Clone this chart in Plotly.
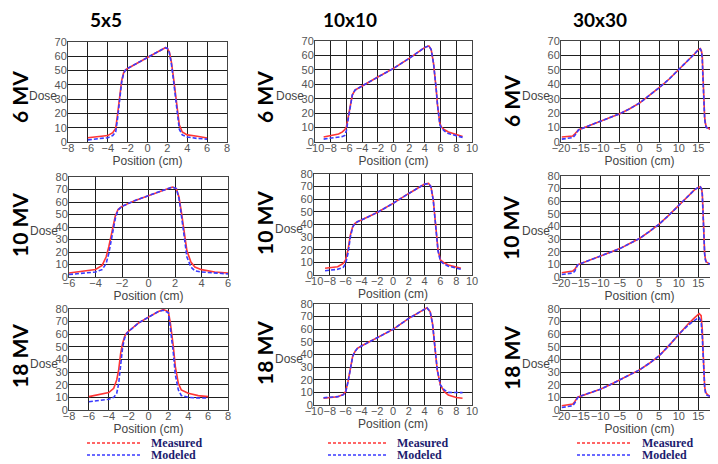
import plotly.graph_objects as go

# screenshot size and page body offset (browser default body margin)
SCREEN_W, SCREEN_H = 718, 464
OFF = 8
W, H = SCREEN_W - OFF, SCREEN_H - OFF

# ---------------- data ----------------
col_titles = ["5x5", "10x10", "30x30"]
row_titles = ["6 MV", "10 MV", "18 MV"]

x_6_5 = [-6, -5, -4, -3.5, -3.2, -3.0, -2.8, -2.6, -2.4, -2.2, -2.0, -1, 0, 1, 1.8, 2.0, 2.2, 2.4, 2.6, 2.8, 3.0, 3.2, 3.5, 4, 5, 6]
meas_6_5 = [3, 3.5, 4.5, 6.5, 9.5, 20, 32, 43, 48.5, 50.5, 51.5, 55.5, 59.5, 63, 66, 65.5, 63, 56, 46, 34, 22, 12, 7, 5, 4, 2.8]
mod_6_5 = [1.5, 2, 3, 4.5, 7, 17, 30, 42, 48, 50.5, 51.5, 55.5, 59.5, 63, 66, 65.5, 62.5, 55, 44, 31, 18, 9, 5, 3.5, 2.5, 2]

x_6_10 = [-8.9, -8, -7, -6.5, -6.2, -6.0, -5.8, -5.55, -5.25, -4.9, -4.5, -4.1, -2, 0, 2, 4, 4.5, 4.8, 5.1, 5.3, 5.45, 5.6, 5.75, 5.9, 6.1, 6.5, 7, 8, 8.8]
meas_6_10 = [3.5, 4.5, 5.5, 7, 8.6, 10.4, 16, 24, 32.5, 36, 37.5, 38.5, 45, 51, 58, 65.6, 66.6, 64, 54.5, 45, 36, 26, 17, 13, 10.4, 8.5, 7, 5, 3.8]
mod_6_10 = [2, 2.5, 3, 3.8, 4.6, 8, 15, 24, 32.5, 36, 37.5, 38.5, 45, 51, 58, 65.6, 66.6, 64, 54.5, 45, 36, 26, 17, 12, 9.7, 7.5, 5.8, 4.2, 3.2]

x_6_30 = [-19.8, -18, -17, -16.5, -16, -15.5, -15, -12.5, -10, -7.5, -5, -2.5, 0, 2.5, 5, 7.5, 10, 12.5, 14, 15, 15.5, 15.8, 16, 16.15, 16.3, 16.45, 16.6, 16.8, 17, 17.5, 18, 19, 20]
meas_6_30 = [3.5, 3.7, 4.2, 5.5, 7, 8.5, 9, 11.5, 14.5, 17, 19.6, 23, 27, 32, 37.6, 43.5, 50, 57, 61, 64, 64.7, 63, 59, 48, 36, 25, 17, 13, 10.5, 9.5, 9, 7.5, 6]
mod_6_30 = [2, 2.5, 3, 4.5, 7, 8.5, 9, 11.5, 14.5, 17, 19.6, 23, 27, 32, 37.6, 43.5, 50, 57, 61, 64, 64.5, 62.5, 57, 45, 34, 24, 16, 12, 10, 9.3, 9, 8.5, 8]

x_10_5 = [-6, -5, -4, -3.5, -3.2, -3.0, -2.85, -2.7, -2.5, -2.3, -2.0, -1, 0, 1, 1.8, 2.1, 2.3, 2.5, 2.7, 2.9, 3.2, 3.5, 4, 5, 6]
meas_10_5 = [3.2, 4.5, 6, 9.3, 16, 24, 32, 40, 49, 54, 56.5, 61.3, 65.3, 69.3, 72, 70.7, 64, 50.7, 34.7, 21, 12, 8, 5.9, 4, 3.2]
mod_10_5 = [2, 3, 4, 5.9, 10.7, 18.7, 27, 35, 47, 53.5, 56.5, 61.3, 65.3, 69.3, 72, 70.7, 63, 48, 30, 16, 8, 5, 4, 3, 2.5]

x_10_10 = [-8.6, -8, -7, -6.3, -6.0, -5.7, -5.4, -5.1, -4.8, -4.5, -4, -2, 0, 2, 4, 4.5, 4.8, 5.1, 5.4, 5.7, 6.0, 6.5, 7, 8, 8.6]
meas_10_10 = [5.3, 5.8, 6.6, 9.2, 11.9, 19.8, 31.7, 38.3, 41, 42.2, 43.5, 49.5, 56.7, 64.6, 72, 72.6, 70, 59.4, 38.3, 19.8, 11.9, 9.5, 7.9, 6, 5.3]
mod_10_10 = [3.4, 3.8, 4.5, 6, 9, 17, 30, 38, 41, 42.2, 43.5, 49.5, 56.7, 64.6, 72, 72.4, 70, 59, 38, 19, 11, 8.5, 7, 5.2, 4.5]

x_10_30 = [-19.8, -18, -17, -16.5, -16.2, -15.8, -15.5, -15, -12.5, -10, -7.5, -5, -2.5, 0, 2.5, 5, 7.5, 10, 12.5, 14, 15, 15.5, 15.8, 16, 16.15, 16.3, 16.45, 16.6, 16.8, 17, 17.5, 18, 19, 20]
meas_10_30 = [3.4, 4, 4.8, 6, 8, 9.5, 10, 10.6, 13.5, 16.4, 19.5, 22.5, 26.5, 30.5, 36, 41.9, 49, 57, 65, 69, 71, 71.5, 70, 66, 55, 39.7, 27, 18.5, 14, 12, 11, 10, 8.5, 6.6]
mod_10_30 = [2, 2.6, 3.2, 4.5, 7, 9.5, 10, 10.6, 13.5, 16.4, 19.5, 22.5, 26.5, 30.5, 36, 41.9, 49, 57, 65, 69, 71, 71.3, 69.5, 65, 53, 38, 26, 18, 13.5, 12, 11, 10, 9, 7.5]

x_18_5 = [-6, -5, -4, -3.5, -3.2, -3.0, -2.8, -2.6, -2.4, -2.2, -2.0, -1, 0, 1, 1.5, 2, 2.2, 2.35, 2.5, 2.7, 3, 3.3, 4, 5, 6]
meas_18_5 = [10.6, 12, 13.8, 17.2, 23.8, 31.8, 45, 53, 58.3, 61, 62.3, 68.9, 73.6, 78, 79.5, 78, 68.9, 60, 50.3, 34.4, 21.2, 15.9, 13.2, 11.4, 10.6]
mod_18_5 = [6.6, 7.5, 8.5, 10, 13.2, 21, 38, 50, 57, 60.5, 62.3, 68.9, 73.6, 78, 79, 77, 65, 56, 45, 28, 16, 11.5, 10, 9.5, 9.5]

x_18_10 = [-8.8, -8, -7, -6.3, -6.0, -5.7, -5.4, -5.1, -4.8, -4.5, -4, -2, 0, 2, 4, 4.3, 4.7, 5.0, 5.3, 5.6, 6.0, 6.5, 7, 8, 8.8]
meas_18_10 = [5.3, 5.8, 6.6, 8.4, 10.6, 18.5, 30.3, 38.8, 42.5, 44.9, 46.7, 53.6, 59.9, 68.6, 76.5, 77, 73.9, 64.6, 46.2, 27.7, 15.8, 10.6, 7.9, 6, 5.3]
mod_18_10 = [5.8, 6, 6.6, 8, 10, 18, 30, 38.5, 42.5, 44.9, 46.7, 53.6, 59.9, 68.6, 76.5, 77, 73.9, 64.6, 46.2, 28, 15.8, 11.9, 10, 9.8, 9.8]

x_18_30 = [-19.8, -18, -17, -16.5, -16.2, -15.8, -15.5, -15, -12.5, -10, -7.5, -5, -2.5, 0, 2.5, 5, 7.5, 10, 12.5, 14, 14.5, 15.2, 15.7, 16, 16.15, 16.3, 16.45, 16.6, 16.8, 17, 17.5, 18, 19, 20]
meas_18_30 = [3.4, 4, 4.8, 6.5, 8.5, 10, 10.6, 11, 13.7, 16.4, 20, 23.8, 27.5, 31.8, 37, 42.9, 51, 60, 68.5, 73, 74.7, 76.3, 74.7, 63.6, 50, 37, 26, 18.5, 15, 13.2, 11.8, 10.6, 8.5, 6.6]
mod_18_30 = [2, 2.6, 3.4, 5.5, 7.5, 9.5, 10.5, 11, 13.7, 16.4, 20, 23.8, 27.5, 31.8, 37, 42.9, 51, 60, 67.5, 71, 72, 73, 70, 58, 46, 35, 25, 18, 14, 12, 11.3, 11, 10, 10]

x_ranges = [[-8, 8], [-10, 10], [-20, 20]]
x_dticks = [2, 2, 5]
x_ranges_row2 = [[-6, 6], [-10, 10], [-20, 20]]
y_max = [70, 80, 80]

panel_data = [
    [(x_6_5, meas_6_5, mod_6_5), (x_6_10, meas_6_10, mod_6_10), (x_6_30, meas_6_30, mod_6_30)],
    [(x_10_5, meas_10_5, mod_10_5), (x_10_10, meas_10_10, mod_10_10), (x_10_30, meas_10_30, mod_10_30)],
    [(x_18_5, meas_18_5, mod_18_5), (x_18_10, meas_18_10, mod_18_10), (x_18_30, meas_18_30, mod_18_30)],
]
row_xranges = [x_ranges, x_ranges_row2, x_ranges]

# ---------------- layout (screen pixel boxes: left, right, top, bottom) ----------------
boxes = [
    [(68, 227, 42, 142), (315, 472, 41, 142), (561, 718, 41, 142)],
    [(69, 228, 177, 277), (314, 472, 174, 275), (561, 718, 176, 277)],
    [(69, 228, 309, 410), (314, 472, 304, 405), (561, 718, 309, 410)],
]
row_label_x = [19, 264, 511]
row_label_y = [[97, 97, 101], [225, 223, 228], [356, 353, 358]]
header_x = [106, 350, 600]
header_y = 19
legend_boxes = [(87, 142, 150), (328, 388, 396), (577, 632, 641)]

RED = "#ff3535"
BLUE = "#3a3aff"
GRID = "#1e1e1e"
TICK_FONT = dict(family="Liberation Sans Narrow, Liberation Sans", size=11, color="#555555")


def px(x):
    return (x - OFF) / W


def py(y):
    return 1 - (y - OFF) / H


fig = go.Figure()
layout = {}
annotations = []
shapes = []

k = 0
for r in range(3):
    for c in range(3):
        k += 1
        xs, meas, mod = panel_data[r][c]
        xa = "x" if k == 1 else f"x{k}"
        ya = "y" if k == 1 else f"y{k}"
        fig.add_trace(go.Scatter(x=xs, y=meas, mode="lines", xaxis=xa, yaxis=ya,
                                 line=dict(color=RED, width=1.6), showlegend=False,
                                 name="Measured"))
        fig.add_trace(go.Scatter(x=xs, y=mod, mode="lines", xaxis=xa, yaxis=ya,
                                 line=dict(color=BLUE, width=1.6, dash="4px,2px"),
                                 showlegend=False, name="Modeled"))
        L, R, T, B = boxes[r][c]
        common = dict(showgrid=True, gridcolor=GRID, gridwidth=1.4, showline=True,
                      linecolor="#444444", linewidth=1, mirror=True, zeroline=False,
                      tickfont=TICK_FONT, ticks="", automargin=False, fixedrange=True,
                      tickangle=0)
        layout["xaxis" if k == 1 else f"xaxis{k}"] = dict(
            domain=[px(L), min(px(R), 1.0)], anchor=ya, range=row_xranges[r][c],
            dtick=x_dticks[c], tick0=0, ticklabelstandoff=-4,
            title=dict(text="Position (cm)", standoff=0,
                       font=dict(family="Liberation Sans", size=12, color="#444444")),
            **common)
        layout["yaxis" if k == 1 else f"yaxis{k}"] = dict(
            domain=[py(B), py(T)], anchor=xa, range=[0, y_max[r]], dtick=10,
            ticklabelstandoff=-2,
            **common)
        # "Dose" label
        annotations.append(dict(text="Dose", xref="paper", yref="paper",
                                x=px(L - 10), y=py((T + B) / 2 + 4), xanchor="right",
                                yanchor="middle", showarrow=False, borderpad=0,
                                font=dict(family="Liberation Sans", size=12, color="#444444")))
        # row label
        annotations.append(dict(text="<b>" + row_titles[r] + "</b>", xref="paper", yref="paper",
                                x=px(row_label_x[c]), y=py(row_label_y[r][c]), textangle=-90,
                                xanchor="center", yanchor="middle", showarrow=False, borderpad=0,
                                font=dict(family="Lato", size=21, color="#000000")))

for c in range(3):
    annotations.append(dict(text="<b>" + col_titles[c] + "</b>", xref="paper", yref="paper",
                            x=px(header_x[c]), y=py(header_y), xanchor="center", yanchor="middle",
                            showarrow=False, borderpad=0,
                            font=dict(family="Lato", size=19, color="#000000")))
    x0, x1, xt = legend_boxes[c]
    for yy, col, lab in [(443, RED, "Measured"), (455, BLUE, "Modeled")]:
        shapes.append(dict(type="line", xref="paper", yref="paper", x0=px(x0), x1=px(x1),
                           y0=py(yy), y1=py(yy), line=dict(color=col, width=1.5, dash="3px,2px")))
        annotations.append(dict(text="<b>" + lab + "</b>", xref="paper", yref="paper",
                                x=px(xt), y=py(yy), xanchor="left", yanchor="middle",
                                showarrow=False, borderpad=0,
                                font=dict(family="Liberation Serif", size=12, color="#1c1c6e")))

fig.update_layout(width=W, height=H, margin=dict(l=0, r=0, t=0, b=0),
                  paper_bgcolor="white", plot_bgcolor="white",
                  annotations=annotations, shapes=shapes, **layout)

fig.write_html("out.html")
